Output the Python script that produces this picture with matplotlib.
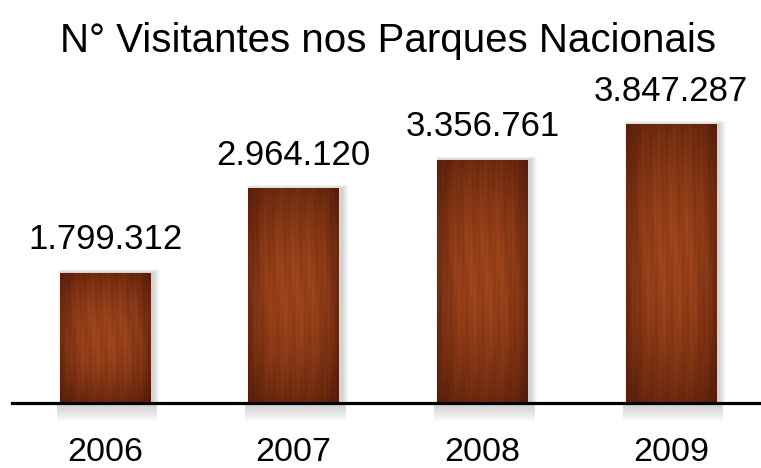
import numpy as np
import matplotlib
matplotlib.use("Agg")
import matplotlib.pyplot as plt
from matplotlib.patches import Rectangle

plt.rcParams['font.family'] = ['Liberation Sans', 'DejaVu Sans']

title = "N° Visitantes nos Parques Nacionais"
years = ["2006", "2007", "2008", "2009"]
visitors = [1799312, 2964120, 3356761, 3847287]
value_labels = ["1.799.312", "2.964.120", "3.356.761", "3.847.287"]

W, H = 761, 468
fig = plt.figure(figsize=(W / 100, H / 100), dpi=100)
fig.patch.set_facecolor('white')
ax_left_px, ax_bottom_px = 12, 65
ax = fig.add_axes([ax_left_px / W, ax_bottom_px / H, 1 - ax_left_px / W, 1 - ax_bottom_px / H])
xlim = (-0.493, 3.477)
ylim = (0, 5.56e6)
ax.set_xlim(*xlim)
ax.set_ylim(*ylim)
ax.axis('off')

px_x = (xlim[1] - xlim[0]) / (W - ax_left_px)
px_y = (ylim[1] - ylim[0]) / (H - ax_bottom_px)

x = np.arange(len(years))
bw = 0.48
bars = ax.bar(x, visitors, width=bw, color='#6a2a0e', zorder=3, linewidth=0)

# wood texture
ny, nx = 300, 90
u = np.linspace(0, 1, nx)[None, :]
v = np.linspace(0, 1, ny)[:, None]
grain = (0.5
         + 0.20 * np.sin(2 * np.pi * (6 * u + 0.25 * np.sin(2 * np.pi * 1.1 * v)))
         + 0.15 * np.sin(2 * np.pi * (17 * u + 0.15 * np.sin(2 * np.pi * 1.7 * v + 1.0)))
         + 0.10 * np.sin(2 * np.pi * (37 * u + 0.1 * v + 0.4)))
profile = 0.3 + 0.7 * np.sin(np.pi * (0.12 + 0.78 * v))
edge = 1 - 0.45 * np.abs(2 * u - 1) ** 3
t = np.clip(profile * edge * (0.75 + 0.3 * grain), 0, 1)
dark = np.array([0.22, 0.05, 0.01])
light = np.array([0.64, 0.28, 0.11])
tex = dark[None, None, :] + t[:, :, None] * (light - dark)[None, None, :]

for b in bars:
    x0, w, h = b.get_x(), b.get_width(), b.get_height()
    for k in range(1, 12):
        ax.add_patch(Rectangle((x0 - (k * 0.4 - 3) * px_x, 0), w + (k * 1.0) * px_x,
                               h + (k * 0.3) * px_y, color='#555555', alpha=0.022,
                               linewidth=0, zorder=1))
    for k in range(1, 10):
        ax.add_patch(Rectangle((x0 - 3 * px_x, -k * 2 * px_y), w + 10 * px_x, k * 2 * px_y,
                               color='#666666', alpha=0.035, linewidth=0, zorder=1,
                               clip_on=False))
    im = ax.imshow(tex, extent=[x0, x0 + w, 0, h], aspect='auto', zorder=3.5,
                   interpolation='bilinear')
    im.set_clip_path(b)

ax.set_xlim(*xlim)
ax.set_ylim(*ylim)
ax.set_aspect('auto')

ax.axhline(0, color='black', linewidth=2.3, zorder=5, clip_on=False)

for i, (val, lab) in enumerate(zip(visitors, value_labels)):
    ax.annotate(lab, xy=(x[i], val), xytext=(0, 17), textcoords='offset points',
                ha='center', va='baseline', fontsize=25, color='black')
    ax.annotate(years[i], xy=(x[i], 0), xycoords=('data', 'axes fraction'),
                xytext=(0, -41.5), textcoords='offset points',
                ha='center', va='baseline', fontsize=24.5, color='black',
                annotation_clip=False)

fig.text(388 / W, 1 - 52 / H, title, ha='center', va='baseline', fontsize=29, color='black')

fig.savefig('out.png', dpi=100, facecolor='white')
